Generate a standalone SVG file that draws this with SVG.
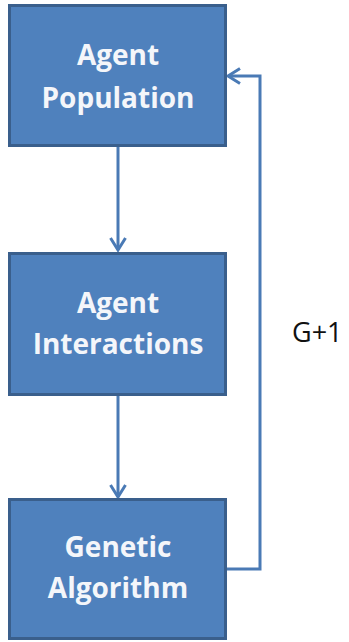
<svg xmlns="http://www.w3.org/2000/svg" width="349" height="642" viewBox="0 0 349 642">
  <style>
    .box { fill: #4F81BD; stroke: #3A5F8C; stroke-width: 3; }
    .label { font-family: "Open Sans", "Liberation Sans", sans-serif; font-weight: bold; font-size: 28px; fill: #F4F6FA; text-anchor: middle; }
    .edge { fill: none; stroke: #4A7AB5; stroke-width: 3; }
    .note { font-family: "Open Sans", "Liberation Sans", sans-serif; font-size: 27px; fill: #111; }
  </style>
  <defs>
    <marker id="arrow" viewBox="0 0 16 18" refX="14" refY="9" markerWidth="16" markerHeight="18" markerUnits="userSpaceOnUse" orient="auto">
      <path d="M2,1.5 L14,9 L2,16.5" fill="none" stroke="#4A7AB5" stroke-width="3" stroke-linejoin="miter"/>
    </marker>
  </defs>
  <rect width="349" height="642" fill="#ffffff"/>

  <g id="connectors">
    <line class="edge" x1="118" y1="146" x2="118" y2="250" marker-end="url(#arrow)"/>
    <line class="edge" x1="118" y1="395" x2="118" y2="497" marker-end="url(#arrow)"/>
    <polyline class="edge" points="226,569 260,569 260,76 228,76" marker-end="url(#arrow)"/>
  </g>

  <g id="agent-population">
    <rect class="box" x="9.5" y="5.5" width="216" height="140"/>
    <text class="label" x="118" y="65">Agent</text>
    <text class="label" x="118" y="108">Population</text>
  </g>

  <g id="agent-interactions">
    <rect class="box" x="9.5" y="253.5" width="216" height="141"/>
    <text class="label" x="118" y="313">Agent</text>
    <text class="label" x="118" y="354">Interactions</text>
  </g>

  <g id="genetic-algorithm">
    <rect class="box" x="9.5" y="499.5" width="216" height="139"/>
    <text class="label" x="118" y="557">Genetic</text>
    <text class="label" x="118" y="598">Algorithm</text>
  </g>

  <text class="note" x="292" y="342">G+1</text>
</svg>
